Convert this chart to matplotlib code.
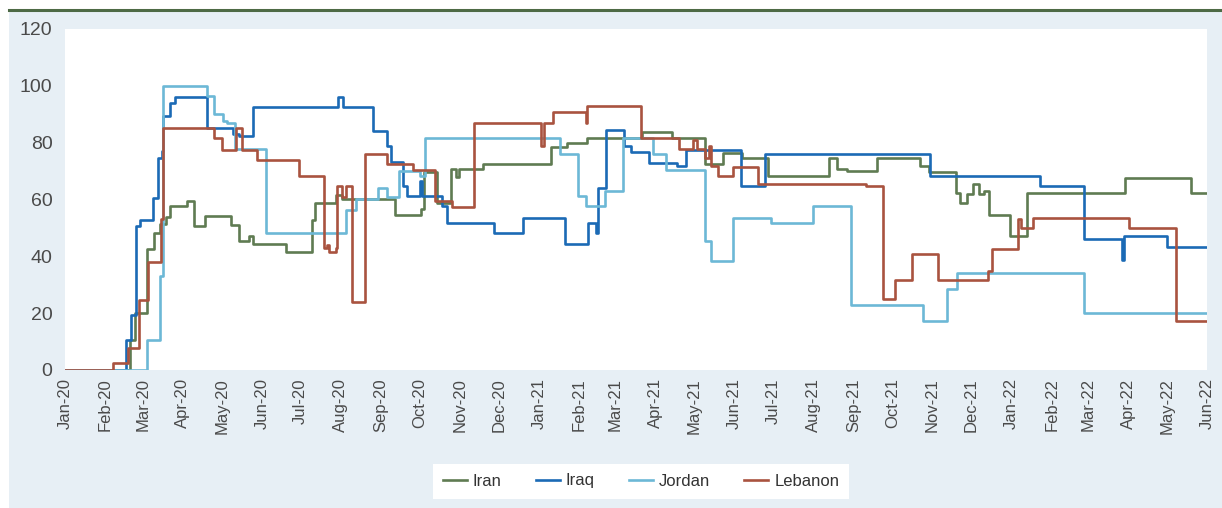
import matplotlib
matplotlib.use("Agg")
import matplotlib.pyplot as plt
import matplotlib.dates as mdates
from matplotlib.patches import Rectangle
from matplotlib.lines import Line2D
import pandas as pd

plt.rcParams["font.family"] = ["Liberation Sans", "DejaVu Sans"]

START = "2020-01-01"
END = "2022-06-01"

# Step change points (date, value)
iran_dates = ["2020-01-01", "2020-02-20", "2020-02-24", "2020-03-04", "2020-03-10",
              "2020-03-14", "2020-03-19", "2020-03-22", "2020-04-04", "2020-04-10",
              "2020-04-18", "2020-05-08", "2020-05-14", "2020-05-22", "2020-05-25",
              "2020-06-20", "2020-07-10", "2020-07-12", "2020-07-28", "2020-08-02",
              "2020-09-12", "2020-10-02", "2020-10-04", "2020-10-14", "2020-10-25",
              "2020-10-29", "2020-10-31", "2020-11-19", "2021-01-10", "2021-01-23",
              "2021-02-07", "2021-03-22", "2021-04-14", "2021-05-09", "2021-05-23",
              "2021-06-07", "2021-06-27", "2021-08-13", "2021-08-19", "2021-08-27",
              "2021-09-19", "2021-10-22", "2021-10-29", "2021-11-19", "2021-11-22",
              "2021-11-28", "2021-12-02", "2021-12-07", "2021-12-11", "2021-12-15",
              "2021-12-31", "2022-01-13", "2022-03-30", "2022-05-20", END]
iran_values = [0, 10.6, 20, 42.6, 48.2,
               51.4, 54, 57.6, 59.4, 50.8,
               54.1, 51.2, 45.3, 47.2, 44.3,
               41.4, 52.9, 58.7, 61.5, 60.1,
               54.7, 56.8, 69.7, 58.8, 70.6,
               68, 70.6, 72.6, 78.4, 80,
               81.8, 83.6, 81.6, 72.6, 76.5,
               74.7, 68.1, 74.5, 70.8, 70,
               74.5, 71.8, 69.8, 62.4, 58.6,
               61.8, 65.3, 61.8, 62.9, 54.7,
               47.3, 62.2, 67.6, 62.2, 62.2]

iraq_dates = ["2020-01-01", "2020-02-17", "2020-02-21", "2020-02-25", "2020-02-28",
              "2020-03-09", "2020-03-13", "2020-03-16", "2020-03-17", "2020-03-22",
              "2020-03-26", "2020-04-20", "2020-05-10", "2020-05-14", "2020-05-25",
              "2020-07-30", "2020-08-03", "2020-08-26", "2020-09-06", "2020-09-09",
              "2020-09-18", "2020-09-21", "2020-10-01", "2020-10-03", "2020-10-18",
              "2020-10-22", "2020-11-27", "2020-12-20", "2021-01-21", "2021-02-08",
              "2021-02-14", "2021-02-16", "2021-02-22", "2021-03-08", "2021-03-13",
              "2021-03-27", "2021-04-18", "2021-04-25", "2021-06-06", "2021-06-25",
              "2021-10-30", "2022-01-23", "2022-02-26", "2022-03-27", "2022-03-29",
              "2022-05-01", END]
iraq_values = [0, 10.6, 19.4, 50.6, 52.7,
               60.6, 74.7, 77, 89.4, 94,
               96.2, 85, 83, 82.4, 92.7,
               96.2, 92.7, 84.1, 78.8, 73.2,
               64.7, 61.2, 66.5, 61.2, 57.6,
               51.8, 48.2, 53.5, 44.3, 51.8,
               48.2, 64.1, 84.4, 78.8, 76.8,
               72.9, 71.8, 77.4, 64.9, 75.9,
               68.2, 64.7, 46.1, 38.8, 47.3,
               43.3, 43.3]

jordan_dates = ["2020-01-01", "2020-03-04", "2020-03-14", "2020-03-17", "2020-04-20",
                "2020-04-25", "2020-05-02", "2020-05-05", "2020-05-11", "2020-06-04",
                "2020-08-05", "2020-08-13", "2020-08-30", "2020-09-06", "2020-09-15",
                "2020-10-01", "2020-10-05", "2021-01-17", "2021-01-31", "2021-02-06",
                "2021-02-21", "2021-03-07", "2021-03-30", "2021-04-09", "2021-05-09",
                "2021-05-14", "2021-05-31", "2021-06-29", "2021-08-01", "2021-08-30",
                "2021-10-25", "2021-11-12", "2021-11-20", "2022-02-26", END]
jordan_values = [0, 10.6, 33.2, 100, 96.5,
                 90, 87.6, 87, 77.6, 48.2,
                 56.2, 60.2, 64.1, 60.8, 70.2,
                 68.2, 81.5, 76.1, 61.2, 57.6,
                 62.9, 81.5, 75.9, 70.4, 45.3,
                 38.2, 53.5, 51.8, 57.6, 22.7,
                 17.4, 28.6, 34.1, 20, 20]

lebanon_dates = ["2020-01-01", "2020-02-07", "2020-02-19", "2020-02-27", "2020-03-05",
                 "2020-03-15", "2020-03-17", "2020-04-25", "2020-05-01", "2020-05-12",
                 "2020-05-17", "2020-05-28", "2020-06-30", "2020-07-19", "2020-07-21",
                 "2020-07-23", "2020-07-28", "2020-07-29", "2020-08-02", "2020-08-05",
                 "2020-08-10", "2020-08-20", "2020-09-06", "2020-09-26", "2020-10-13",
                 "2020-10-26", "2020-11-12", "2021-01-03", "2021-01-05", "2021-01-12",
                 "2021-02-06", "2021-02-07", "2021-03-21", "2021-04-19", "2021-04-30",
                 "2021-05-03", "2021-05-09", "2021-05-12", "2021-05-14", "2021-05-19",
                 "2021-05-31", "2021-06-19", "2021-09-11", "2021-09-24", "2021-10-03",
                 "2021-10-16", "2021-11-05", "2021-12-14", "2021-12-17", "2022-01-06",
                 "2022-01-08", "2022-01-18", "2022-04-02", "2022-05-08", END]
lebanon_values = [0, 2.6, 7.9, 24.7, 37.9,
                  53, 85, 81.6, 77.5, 85,
                  77.5, 73.9, 68.2, 42.9, 44,
                  41.5, 43, 64.7, 61, 64.7,
                  24.1, 76.1, 72.4, 70.5, 59.6,
                  57.5, 87, 78.8, 87, 90.9,
                  87, 92.8, 81.6, 77.6, 81,
                  77.6, 74.5, 79, 71.8, 68.4,
                  71.4, 65.6, 64.8, 24.9, 31.5,
                  40.8, 31.5, 35, 42.6, 53.2,
                  50, 53.5, 50, 17.4, 17.4]

series = [
    ("Iran", iran_dates, iran_values, "#5f7b52"),
    ("Iraq", iraq_dates, iraq_values, "#1b6ab5"),
    ("Jordan", jordan_dates, jordan_values, "#6cb8d6"),
    ("Lebanon", lebanon_dates, lebanon_values, "#a9533f"),
]

fig = plt.figure(figsize=(12.22, 5.08), dpi=100, facecolor="white")

# light panel + dark rule on top
panel = Rectangle((9 / 1222, 0), 1 - 9 / 1222, (508 - 12) / 508,
                  transform=fig.transFigure, facecolor="#e7eff5",
                  edgecolor="none", zorder=-10)
fig.add_artist(panel)
fig.add_artist(Line2D([9 / 1222, 1], [(508 - 10) / 508] * 2, transform=fig.transFigure,
                      color="#4d6a45", linewidth=2.2, zorder=-5))

ax = fig.add_axes([65 / 1222, (508 - 370) / 508, (1207 - 65) / 1222, (370 - 29) / 508])
ax.set_zorder(1)
ax.set_facecolor("white")

for name, d, v, c in series:
    ax.step(pd.to_datetime(d), v, where="post", color=c, linewidth=1.9, label=name)

ax.set_xlim(pd.Timestamp(START), pd.Timestamp(END))
ax.set_ylim(0, 120)
ax.set_yticks(range(0, 121, 20))
ax.xaxis.set_major_locator(mdates.MonthLocator())
ax.xaxis.set_major_formatter(mdates.DateFormatter("%b-%y"))
ax.tick_params(axis="x", length=0, pad=6, labelsize=12, labelcolor="#4a4a4a", rotation=90)
ax.tick_params(axis="y", length=0, pad=9, labelsize=14, labelcolor="#4a4a4a")
for s in ax.spines.values():
    s.set_visible(False)

leg = fig.legend(loc="center", bbox_to_anchor=(641 / 1222, (508 - 481) / 508), ncol=4,
                 frameon=True, fancybox=False, framealpha=1, fontsize=12,
                 handlelength=1.45, handletextpad=0.35, columnspacing=2.05, borderpad=0.6)
leg.set_zorder(2)
leg.get_frame().set_facecolor("white")
leg.get_frame().set_edgecolor("none")
for t in leg.get_texts():
    t.set_color("#333333")

fig.savefig("out.png", dpi=100, facecolor=fig.get_facecolor())
